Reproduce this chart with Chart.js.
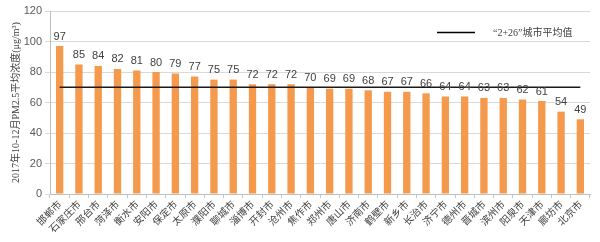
<!DOCTYPE html>
<html><head><meta charset="utf-8">
<script src="https://cdn.jsdelivr.net/npm/chart.js@4/dist/chart.umd.min.js"></script>
<style>html,body{margin:0;padding:0;background:#fff}#wrap{width:600px;height:242px}</style>
</head><body><div id="wrap"><canvas id="c" width="600" height="242"></canvas></div>
<script>
const cities = ["邯郸市","石家庄市","邢台市","菏泽市","衡水市","安阳市","保定市","太原市","濮阳市","聊城市","淄博市","开封市","沧州市","焦作市","郑州市","唐山市","济南市","鹤壁市","新乡市","长治市","济宁市","德州市","晋城市","滨州市","阳泉市","天津市","廊坊市","北京市"];
const pm25 = [97,85,84,82,81,80,79,77,75,75,72,72,72,70,69,69,68,67,67,66,64,64,63,63,62,61,54,49];
const averageValue = 70;
const averageLine = cities.map(() => averageValue);
const yTicks = [0,20,40,60,80,100,120];
const yTitle = "2017年10-12月PM2.5平均浓度(μg/m³)";
const legendText = "“2+26”城市平均值";

const labelPlugin = {
  id: 'labels',
  afterDatasetsDraw(chart) {
    const ctx = chart.ctx;
    const meta = chart.getDatasetMeta(0);
    ctx.save();
    ctx.font = '11px "Liberation Sans", Arial, sans-serif';
    ctx.fillStyle = '#404040';
    ctx.textAlign = 'center';
    ctx.textBaseline = 'bottom';
    meta.data.forEach((bar, i) => {
      ctx.fillText(String(pm25[i]), bar.x, bar.y - 4);
    });
    ctx.strokeStyle = '#000';
    ctx.lineWidth = 1.3;
    ctx.beginPath();
    ctx.moveTo(437, 32.5);
    ctx.lineTo(475, 32.5);
    ctx.stroke();
    ctx.font = '10px "Liberation Serif", "Noto Sans CJK SC", serif';
    ctx.fillStyle = '#404040';
    ctx.textAlign = 'left';
    ctx.textBaseline = 'middle';
    ctx.fillText(legendText, 493, 33);
    ctx.restore();
  }
};

new Chart(document.getElementById('c'), {
  type: 'bar',
  data: {
    labels: cities,
    datasets: [
      { type: 'bar', data: pm25, backgroundColor: '#F59A4D', borderWidth: 0,
        barPercentage: 0.38, categoryPercentage: 1.0, order: 2 },
      { type: 'line', data: averageLine, borderColor: '#1a1a1a', borderWidth: 1.5,
        pointRadius: 0, fill: false, order: 1 }
    ]
  },
  options: {
    responsive: false,
    animation: false,
    layout: { padding: { top: 11, right: 10, left: 0, bottom: 0 } },
    plugins: { legend: { display: false }, tooltip: { enabled: false } },
    scales: {
      x: {
        offset: true,
        grid: { display: true, drawOnChartArea: false, offset: true, tickLength: 4, color: '#bcc6d8' },
        border: { color: '#bfbfbf' },
        ticks: { autoSkip: false, maxRotation: 45, minRotation: 45, padding: 0,
          font: { size: 10, family: '"Noto Sans CJK SC", sans-serif' }, color: '#404040' },
        afterFit(axis) { axis.height = 48; }
      },
      y: {
        min: 0, max: 120,
        afterBuildTicks(axis) { axis.ticks = yTicks.map(v => ({ value: v })); },
        grid: { color: '#d9d9d9', tickLength: 5, lineWidth: 1 },
        border: { color: '#bfbfbf' },
        ticks: { font: { size: 11, family: '"Liberation Sans", Arial, sans-serif' }, color: '#595959', padding: 3 },
        title: { display: true, text: yTitle, color: '#404040', padding: { top: 10, bottom: 0 },
          font: { size: 10, family: '"Liberation Serif", "Noto Sans CJK SC", serif' } },
        afterFit(axis) { axis.width = 50; }
      }
    }
  },
  plugins: [labelPlugin]
});
</script></body></html>
